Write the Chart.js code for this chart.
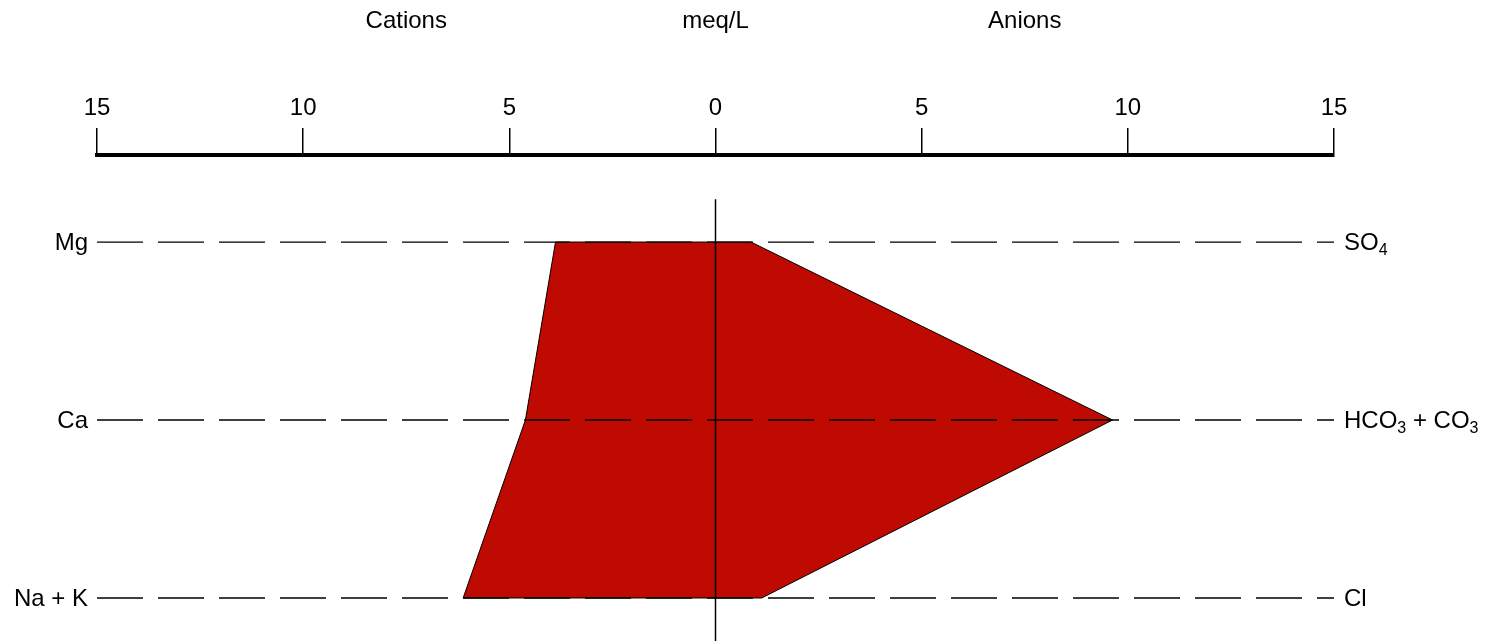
<!DOCTYPE html>
<html>
<head>
<meta charset="utf-8">
<script src="https://cdn.jsdelivr.net/npm/chart.js@4/dist/chart.umd.min.js"></script>
<style>
  html, body { margin: 0; padding: 0; background: #fff; }
  canvas { display: block; }
</style>
</head>
<body>
<canvas id="stiffChart" width="1494" height="641"></canvas>
<script>
// Stiff diagram data (meq/L)
const cationLabels = ["Mg", "Ca", "Na + K"];
const anionLabels = ["SO_4", "HCO_3 + CO_3", "Cl"];
const cationValues = [3.88, 4.61, 6.12];
const anionValues = [0.86, 9.63, 1.12];
const xTicks = [-15, -10, -5, 0, 5, 10, 15];
const sideTitles = ["Cations", "meq/L", "Anions"];
const sideTitleValues = [-7.5, 0, 7.5];

const FONT = "'Liberation Sans', Arial, sans-serif";
const yMin = -0.489;
const yMax = 2.2416;

// polygon: cations to the left (negative), anions to the right
const polygon = [];
cationValues.forEach((v, i) => polygon.push({ x: -v, y: i }));
for (let i = anionValues.length - 1; i >= 0; i--) {
  polygon.push({ x: anionValues[i], y: i });
}
polygon.push(polygon[0]);

const rowLines = cationLabels.map((label, i) => ({
  label: label,
  data: [
    { x: xTicks[0], y: i },
    { x: xTicks[xTicks.length - 1], y: i },
  ],
  showLine: true,
  borderColor: "#000",
  borderWidth: 1.3,
  borderDash: [46, 15],
  pointRadius: 0,
  order: 1,
}));

const zeroLine = {
  label: "zero",
  data: [
    { x: 0, y: -0.24 },
    { x: 0, y: yMax },
  ],
  showLine: true,
  borderColor: "#000",
  borderWidth: 1.5,
  pointRadius: 0,
  order: 0,
};

const shape = {
  label: "sample",
  data: polygon,
  showLine: true,
  fill: "shape",
  backgroundColor: "#be0a00",
  borderColor: "#000",
  borderWidth: 1,
  pointRadius: 0,
  tension: 0,
  order: 3,
};

// Helper to draw text with digit subscripts marked by "_"
function drawSubText(ctx, text, x, y) {
  const parts = text.split(/_(\d)/);
  let cx = x;
  parts.forEach((part, idx) => {
    if (!part) return;
    if (idx % 2 === 1) {
      ctx.font = "16px " + FONT;
      ctx.fillText(part, cx, y + 8);
    } else {
      ctx.font = "24px " + FONT;
      ctx.fillText(part, cx, y);
    }
    cx += ctx.measureText(part).width;
  });
}

const labelPlugin = {
  id: "stiffLabels",
  afterDraw(chart) {
    const ctx = chart.ctx;
    const xs = chart.scales.x;
    const ys = chart.scales.y;
    const area = chart.chartArea;
    ctx.save();
    ctx.fillStyle = "#000";
    ctx.textBaseline = "middle";

    ctx.font = "24px " + FONT;
    ctx.textAlign = "center";
    sideTitles.forEach((t, i) => {
      ctx.fillText(t, xs.getPixelForValue(sideTitleValues[i]), 21);
    });

    ctx.textAlign = "right";
    cationLabels.forEach((t, i) => {
      ctx.fillText(t, area.left - 9, ys.getPixelForValue(i) + 1);
    });

    ctx.textAlign = "left";
    anionLabels.forEach((t, i) => {
      drawSubText(ctx, t, area.right + 10, ys.getPixelForValue(i) + 1);
    });
    ctx.restore();
  },
};

const ctx = document.getElementById("stiffChart").getContext("2d");
new Chart(ctx, {
  type: "scatter",
  data: { datasets: [zeroLine, ...rowLines, shape] },
  options: {
    responsive: false,
    animation: false,
    layout: { padding: { left: 97, right: 160, top: 0, bottom: 0 } },
    plugins: {
      legend: { display: false },
      tooltip: { enabled: false },
    },
    scales: {
      x: {
        type: "linear",
        position: "top",
        min: xTicks[0],
        max: xTicks[xTicks.length - 1],
        afterBuildTicks: (scale) => {
          scale.ticks = xTicks.map((v) => ({ value: v }));
        },
        afterFit: (scale) => {
          scale.height = 155;
        },
        ticks: {
          color: "#000",
          font: { family: FONT, size: 24 },
          padding: 5,
          maxRotation: 0,
          callback: (v) => Math.abs(v),
        },
        grid: {
          drawOnChartArea: false,
          drawTicks: true,
          tickLength: 27,
          color: "#000",
          lineWidth: 1.5,
        },
        border: { display: true, color: "#000", width: 4 },
      },
      y: {
        type: "linear",
        display: false,
        reverse: true,
        min: yMin,
        max: yMax,
      },
    },
  },
  plugins: [labelPlugin],
});
</script>
</body>
</html>
